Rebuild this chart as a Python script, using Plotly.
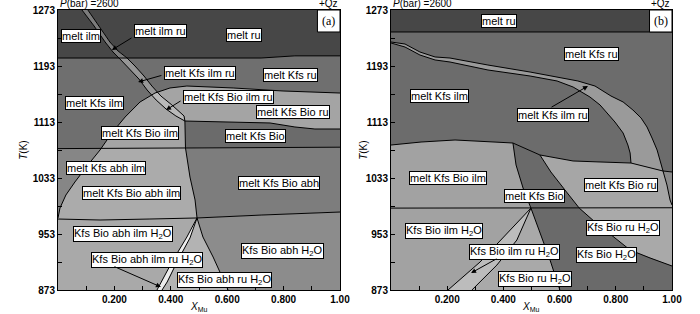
import plotly.graph_objects as go

# ---------------- DATA (X_Mu, T in K) ----------------
# Panel (a)
a_H1 = [(0, 1204.4), (0.72, 1204.4), (0.84, 1207.5), (1.0, 1207.5)]
a_band_left = [(0.085, 1273), (0.128, 1250.1), (0.167, 1227.3), (0.195, 1213), (0.223, 1201.6), (0.255, 1188.7),
               (0.287, 1174.4), (0.316, 1158.7), (0.348, 1144.4), (0.383, 1131.6), (0.418, 1121.6), (0.450, 1114.4)]
a_band_right = [(0.106, 1273), (0.145, 1250.1), (0.184, 1227.3), (0.213, 1214.4), (0.245, 1204.4), (0.273, 1193),
                (0.305, 1178.7), (0.333, 1164.4), (0.365, 1150.1), (0.404, 1137.3), (0.433, 1127.3), (0.447, 1121.6),
                (0.450, 1114.4)]
a_band_top = [(0.085, 1273), (0.128, 1250.1), (0.167, 1227.3), (0.195, 1213), (0.217, 1204.4), (0.245, 1204.4),
              (0.213, 1214.4), (0.184, 1227.3), (0.145, 1250.1), (0.106, 1273)]
a_band_low = [(0.331, 1151.5), (0.348, 1144.4), (0.383, 1131.6), (0.418, 1121.6), (0.450, 1114.4), (0.447, 1121.6),
              (0.433, 1127.3), (0.404, 1137.3), (0.365, 1150.1), (0.353, 1155.6), (0.344, 1154.4)]
a_bio = [(0, 975.9), (0.007, 990.1), (0.028, 1008.7), (0.06, 1027.3), (0.106, 1051.6), (0.149, 1073),
         (0.191, 1097.3), (0.238, 1120.1), (0.291, 1141.6), (0.344, 1154.4), (0.397, 1161.6), (0.457, 1164.4),
         (0.621, 1161.6), (0.798, 1157.3), (1.0, 1154.4)]
a_H2 = [(0.450, 1114.4), (0.621, 1113), (0.752, 1111.6), (0.840, 1105.9), (0.911, 1103), (1.0, 1103)]
a_V = [(0.450, 1114.4), (0.450, 1094.4), (0.452, 1076), (0.468, 1034.4), (0.486, 1001.6), (0.493, 975.9)]
a_H3 = [(0, 1075), (0.452, 1076), (1.0, 1077)]
a_sol = [(0, 974.4), (0.149, 973), (0.326, 974.4), (0.493, 975.9), (0.723, 980.1), (1.0, 984.4)]
a_lb_left = [(0.493, 975.9), (0.457, 948.7), (0.408, 915.8), (0.372, 887.3), (0.351, 873)]
a_lb_right = [(0.493, 975.9), (0.468, 947.3), (0.422, 913), (0.387, 884.4), (0.369, 873)]
a_C = [(0.493, 975.9), (0.514, 948.7), (0.55, 920.1), (0.582, 891.6), (0.603, 873)]

a_labels = [("melt ilm", 0.082, 1235.9), ("melt ilm ru", 0.362, 1243.7), ("melt ru", 0.658, 1238),
            ("melt Kfs ilm ru", 0.504, 1183), ("melt Kfs ru", 0.823, 1180.1), ("melt Kfs ilm", 0.131, 1140.1),
            ("melt Kfs Bio ilm ru", 0.605, 1148.7), ("melt Kfs Bio ru", 0.833, 1127.3),
            ("melt Kfs Bio ilm", 0.289, 1097.3), ("melt Kfs Bio", 0.702, 1093.7),
            ("melt Kfs abh ilm", 0.170, 1047.3), ("melt Kfs Bio abh ilm", 0.259, 1011.6),
            ("melt Kfs Bio abh", 0.784, 1025.9), ("Kfs Bio abh ilm H<sub>2</sub>O", 0.232, 952.3),
            ("Kfs Bio abh ilm ru H<sub>2</sub>O", 0.317, 915.8), ("Kfs Bio abh H<sub>2</sub>O", 0.796, 928.7),
            ("Kfs Bio abh ru H<sub>2</sub>O", 0.590, 888)]
a_arrows = [((0.266, 1234.4), (0.191, 1215.9)), ((0.372, 1180.1), (0.284, 1170.1)),
            ((0.44, 1144.4), (0.383, 1130.1)), ((0.195, 907.3), (0.365, 877.3))]

# Panel (b)
b_top = [(0, 1241.6), (1.0, 1241.6)]
b_band_up = [(0, 1227.3), (0.050, 1224.4), (0.103, 1213), (0.157, 1205.9), (0.210, 1204.4), (0.345, 1194.4),
             (0.495, 1184.4), (0.591, 1177.3), (0.665, 1171.6), (0.726, 1164.4), (0.783, 1150.1), (0.826, 1141.6),
             (0.861, 1130.1), (0.890, 1118.7), (0.911, 1105.9), (0.929, 1090.1), (0.947, 1073), (0.957, 1058.7),
             (0.968, 1043)]
b_band_lo = [(0, 1225.9), (0.050, 1220.1), (0.103, 1208.7), (0.157, 1201.6), (0.210, 1198.7), (0.345, 1187.3),
             (0.495, 1178.7), (0.591, 1171.6), (0.648, 1163), (0.708, 1148.7), (0.744, 1137.3), (0.769, 1125.9),
             (0.797, 1113), (0.826, 1097.3), (0.843, 1080.1), (0.851, 1068.7), (0.854, 1054.4)]
b_bio = [(0, 1080.1), (0.107, 1084.4), (0.228, 1087.3), (0.345, 1084.4), (0.434, 1083), (0.53, 1065.9),
         (0.648, 1057.3), (0.744, 1055.9), (0.854, 1054.4), (0.968, 1043), (1.0, 1041.6)]
b_A = [(0.434, 1083), (0.445, 1051.6), (0.470, 1018.7), (0.498, 990)]
b_B = [(0.53, 1065.9), (0.569, 1041.6), (0.619, 1015.9), (0.67, 990), (0.726, 970.1), (0.783, 951.5),
       (0.851, 930.1), (0.922, 918.7), (1.0, 907.3)]
b_D = [(0.968, 1043), (0.982, 1023), (0.993, 1001.6), (1.0, 994.4)]
b_sol = [(0, 990), (1.0, 990.5)]
b_lb_left = [(0.498, 990), (0.406, 950.1), (0.317, 913), (0.203, 873)]
b_lb_right = [(0.498, 990), (0.448, 944.4), (0.377, 908.7), (0.288, 873)]
b_C = [(0.498, 990), (0.530, 954.4), (0.566, 915.8), (0.601, 873)]

b_labels = [("melt ru", 0.384, 1257.3), ("melt Kfs ru", 0.712, 1210.1), ("melt Kfs ilm", 0.173, 1150.1),
            ("melt Kfs ilm ru", 0.577, 1123.7), ("melt Kfs Bio ilm", 0.203, 1033.7), ("melt Kfs Bio", 0.512, 1007.3),
            ("melt Kfs Bio ru", 0.819, 1023.7), ("Kfs Bio ilm H<sub>2</sub>O", 0.187, 957.3),
            ("Kfs Bio ilm ru H<sub>2</sub>O", 0.440, 926.6), ("Kfs Bio ru H<sub>2</sub>O", 0.512, 889.4),
            ("Kfs Bio ru H<sub>2</sub>O", 0.827, 960.9), ("Kfs Bio H<sub>2</sub>O", 0.767, 923)]
b_arrows = [((0.566, 1133), (0.701, 1164.4)), ((0.381, 918.7), (0.285, 897.3))]

x_ticks = [0.1, 0.2, 0.3, 0.4, 0.5, 0.6, 0.7, 0.8, 0.9, 1.0]
x_ticktext = ["", "0.200", "", "0.400", "", "0.600", "", "0.800", "", "1.00"]
y_ticks = [873, 913, 953, 993, 1033, 1073, 1113, 1153, 1193, 1233, 1273]
y_ticktext = ["873", "", "953", "", "1033", "", "1113", "", "1193", "", "1273"]

# ---------------- FIGURE ----------------
fig = go.Figure()
FONT = "Liberation Sans, Arial, sans-serif"


def poly(pts, color, xa, ya):
    xs = [p[0] for p in pts] + [pts[0][0]]
    ys = [p[1] for p in pts] + [pts[0][1]]
    fig.add_trace(go.Scatter(x=xs, y=ys, fill="toself", fillcolor=color, mode="lines",
                             line=dict(width=0, color=color), xaxis=xa, yaxis=ya,
                             hoverinfo="skip", showlegend=False))


def line(pts, xa, ya):
    fig.add_trace(go.Scatter(x=[p[0] for p in pts], y=[p[1] for p in pts], mode="lines",
                             line=dict(width=1, color="black"), xaxis=xa, yaxis=ya,
                             hoverinfo="skip", showlegend=False))


rev = lambda l: list(reversed(l))
XL, YL, XR, YR = "x", "y", "x2", "y2"

# ---- panel (a) fills ----
poly([(0, 873), (1, 873), (1, 1273), (0, 1273)], "#6f6f6f", XL, YL)
poly([(0, 1273), (1, 1273)] + rev(a_H1), "#474747", XL, YL)
poly(a_bio + [(1, 873), (0, 873)], "#a4a4a4", XL, YL)
poly(a_H2 + [(1.0, 1077), (0.452, 1076), (0.450, 1094.4)], "#6b6b6b", XL, YL)
poly(a_H3 + [(1, 873), (0, 873)], "#ababab", XL, YL)
poly(a_bio[:6] + [(0.152, 1075), (0, 1075)], "#868686", XL, YL)
poly([(0.452, 1076), (1.0, 1077)] + rev(a_sol[3:]) + rev(a_V[2:-1]), "#7d7d7d", XL, YL)
poly(a_sol + [(1, 873), (0, 873)], "#a9a9a9", XL, YL)
poly(a_sol[3:] + [(1, 873)] + rev(a_C), "#8c8c8c", XL, YL)
poly(a_lb_right + rev(a_C), "#b3b3b3", XL, YL)
poly(a_lb_left + rev(a_lb_right), "#ededed", XL, YL)
poly(a_band_left + rev(a_band_right), "#979797", XL, YL)
poly(a_band_top, "#7c7c7c", XL, YL)
poly(a_band_low, "#b9b9b9", XL, YL)
for c in [a_H1, a_band_left, a_band_right, a_bio, a_H2, a_V, a_H3, a_sol, a_lb_left, a_lb_right, a_C]:
    line(c, XL, YL)

# ---- panel (b) fills ----
poly([(0, 873), (1, 873), (1, 1273), (0, 1273)], "#6c6c6c", XR, YR)
poly([(0, 1273), (1, 1273)] + rev(b_top), "#474747", XR, YR)
poly(b_bio + [(1, 873), (0, 873)], "#a2a2a2", XR, YR)
poly(b_A + [(0.67, 990)] + rev(b_B[:3]), "#6a6a6a", XR, YR)
poly(b_B[:4] + [(1.0, 990.5), (1.0, 1041.6)] + rev(b_bio[5:]), "#a6a6a6", XR, YR)
poly(b_sol + [(1, 873), (0, 873)], "#a2a2a2", XR, YR)
poly(b_lb_right + [(1, 873), (1, 990.5)], "#a9a9a9", XR, YR)
poly(b_C + [(1, 873)] + rev(b_B[3:]), "#6a6a6a", XR, YR)
poly(b_lb_left + rev(b_lb_right), "#bcbcbc", XR, YR)
poly(b_band_up + [(0.854, 1054.4)] + rev(b_band_lo), "#9a9a9a", XR, YR)
poly(b_D + [(1.0, 1041.6)], "#8a8a8a", XR, YR)
for c in [b_top, b_band_up, b_band_lo, b_bio, b_A, b_B, b_D, b_sol, b_lb_left, b_lb_right, b_C]:
    line(c, XR, YR)

# ---------------- ANNOTATIONS ----------------
ann = []
shapes = []
lab_font = dict(family=FONT, size=11, color="black")
for labels, xr, yr in [(a_labels, "x", "y"), (b_labels, "x2", "y2")]:
    for t, x, y in labels:
        ann.append(dict(text=t, x=x, y=y, xref=xr, yref=yr, showarrow=False, font=lab_font,
                        bgcolor="white", bordercolor="black", borderwidth=1, borderpad=0))
for arrows, xr, yr in [(a_arrows, "x", "y"), (b_arrows, "x2", "y2")]:
    for (tx, ty), (hx, hy) in arrows:
        ann.append(dict(text="", x=hx, y=hy, ax=tx, ay=ty, xref=xr, yref=yr, axref=xr, ayref=yr,
                        showarrow=True, arrowhead=2, arrowsize=1, arrowwidth=1, arrowcolor="black",
                        standoff=0, startstandoff=0))

for xr, yr, tag in [("x", "y", "(a)"), ("x2", "y2", "(b)")]:
    shapes.append(dict(type="rect", xref=xr, yref=yr, x0=0.92, x1=1.0, y0=1241.6, y1=1273,
                       fillcolor="white", line=dict(color="black", width=1), layer="above"))
    ann.append(dict(text=tag, x=0.96, y=1257.3, xref=xr, yref=yr, showarrow=False,
                    font=dict(family="Liberation Serif, Times New Roman, serif", size=12, color="black")))
    dom = xr + " domain"
    ann.append(dict(text="<i>P</i>(bar) =2600", x=0, y=1.0, xref=dom, yref="paper", xanchor="left",
                    yanchor="bottom", yshift=-1, showarrow=False, font=dict(family=FONT, size=10, color="black")))
    ann.append(dict(text="+Qz", x=1, y=1.0, xref=dom, yref="paper", xanchor="right",
                    yanchor="bottom", yshift=-1, showarrow=False, font=dict(family=FONT, size=10, color="black")))
    ann.append(dict(text="<i>T</i>(K)", x=-0.125 if xr == "x" else -0.1, y=0.5, xref=dom, yref="paper",
                    xanchor="center", yanchor="middle",
                    textangle=-90, showarrow=False, font=dict(family=FONT, size=10, color="black")))
    ann.append(dict(text="<i>X</i><sub>Mu</sub>", x=0.5, y=0, xref=dom, yref="paper", xanchor="center",
                    yanchor="top", yshift=-9, showarrow=False, font=dict(family=FONT, size=10, color="black")))

axis_common = dict(range=[0, 1], showline=True, linecolor="black", linewidth=1, mirror=True,
                   ticks="inside", ticklen=4, tickcolor="black", showgrid=False, zeroline=False,
                   tickvals=x_ticks, ticktext=x_ticktext,
                   tickfont=dict(family=FONT, size=10, color="black", weight="bold"))
yaxis_common = dict(range=[873, 1273], showline=True, linecolor="black", linewidth=1, mirror=True,
                    ticks="inside", ticklen=4, tickcolor="black", showgrid=False, zeroline=False,
                    tickvals=y_ticks, ticktext=y_ticktext,
                    tickfont=dict(family=FONT, size=10, color="black", weight="bold"))

fig.update_layout(
    width=700, height=314,
    margin=dict(l=58, r=28, t=10, b=24, autoexpand=False),
    paper_bgcolor="white", plot_bgcolor="white",
    xaxis=dict(domain=[0, 0.4593], anchor="y", **axis_common),
    yaxis=dict(domain=[0, 1], anchor="x", **yaxis_common),
    xaxis2=dict(domain=[0.5423, 1], anchor="y2", **axis_common),
    yaxis2=dict(domain=[0, 1], anchor="x2", **yaxis_common),
    annotations=ann, shapes=shapes, showlegend=False,
)

fig.write_html("out.html", config={"displayModeBar": False, "staticPlot": True},
               post_script="document.body.style.margin='0px';document.body.style.overflow='hidden';")
